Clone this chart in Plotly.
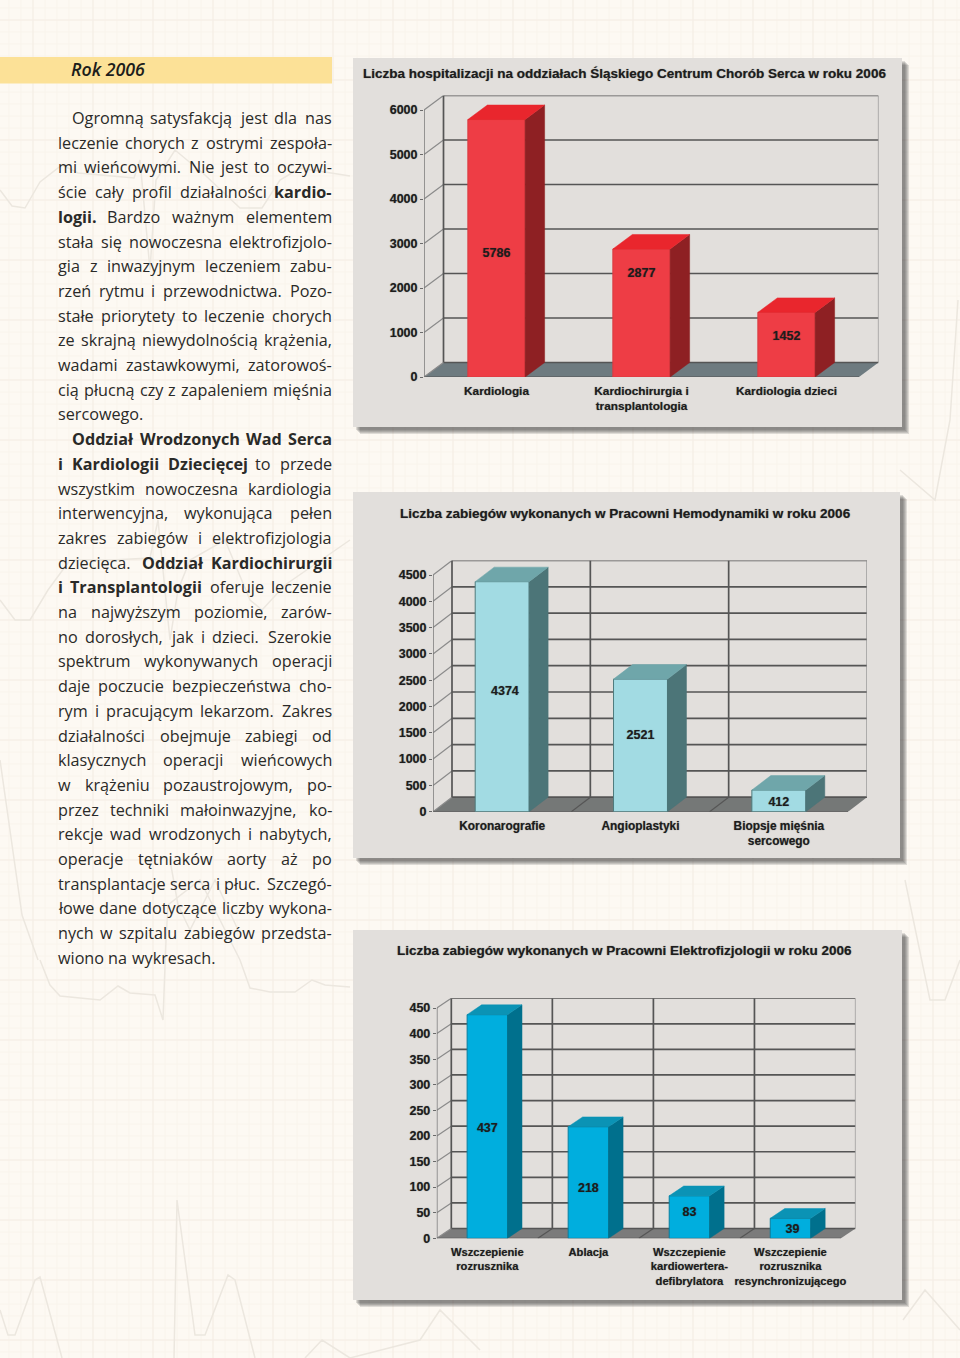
import plotly.graph_objects as go

W, H = 960, 1358

# ---------- data ----------
title1 = "Liczba hospitalizacji na oddziałach Śląskiego Centrum Chorób Serca w roku 2006"
categories1 = ["Kardiologia", "Kardiochirurgia i<br>transplantologia", "Kardiologia dzieci"]
values1 = [5786, 2877, 1452]
labels1 = ["5786", "2877", "1452"]
label_y1 = [2765, 2315, 900]
ticks1 = [0, 1000, 2000, 3000, 4000, 5000, 6000]

title2 = "Liczba zabiegów wykonanych w Pracowni Hemodynamiki w roku 2006"
categories2 = ["Koronarografie", "Angioplastyki", "Biopsje mięśnia<br>sercowego"]
values2 = [4374, 2521, 412]
labels2 = ["4374", "2521", "412"]
label_y2 = [2276, 1439, 171]
ticks2 = [0, 500, 1000, 1500, 2000, 2500, 3000, 3500, 4000, 4500]

title3 = "Liczba zabiegów wykonanych w Pracowni Elektrofizjologii w roku 2006"
categories3 = ["Wszczepienie<br>rozrusznika", "Ablacja", "Wszczepienie<br>kardiowertera-<br>defibrylatora",
               "Wszczepienie<br>rozrusznika<br>resynchronizującego"]
values3 = [437, 218, 83, 39]
labels3 = ["437", "218", "83", "39"]
label_y3 = [213, 96, 49, 16]
ticks3 = [0, 50, 100, 150, 200, 250, 300, 350, 400, 450]

heading = "Rok 2006"
# ^ marks bold words, > indented first line, $ last line (not justified)
body_lines = [
    ">Ogromną satysfakcją jest dla nas",
    "leczenie chorych z ostrymi zespoła-",
    "mi wieńcowymi. Nie jest to oczywi-",
    "ście cały profil działalności ^kardio-",
    "^logii. Bardzo ważnym elementem",
    "stała się nowoczesna elektrofizjolo-",
    "gia z inwazyjnym leczeniem zabu-",
    "rzeń rytmu i przewodnictwa. Pozo-",
    "stałe priorytety to leczenie chorych",
    "ze skrajną niewydolnością krążenia,",
    "wadami zastawkowymi, zatorowoś-",
    "cią płucną czy z zapaleniem mięśnia",
    "$sercowego.",
    ">^Oddział ^Wrodzonych ^Wad ^Serca",
    "^i ^Kardiologii ^Dziecięcej to przede",
    "wszystkim nowoczesna kardiologia",
    "interwencyjna, wykonująca pełen",
    "zakres zabiegów i elektrofizjologia",
    "dziecięca. ^Oddział ^Kardiochirurgii",
    "^i ^Transplantologii oferuje leczenie",
    "na najwyższym poziomie, zarów-",
    "no dorosłych, jak i dzieci. Szerokie",
    "spektrum wykonywanych operacji",
    "daje poczucie bezpieczeństwa cho-",
    "rym i pracującym lekarzom. Zakres",
    "działalności obejmuje zabiegi od",
    "klasycznych operacji wieńcowych",
    "w krążeniu pozaustrojowym, po-",
    "przez techniki małoinwazyjne, ko-",
    "rekcje wad wrodzonych i nabytych,",
    "operacje tętniaków aorty aż po",
    "transplantacje serca i płuc. Szczegó-",
    "łowe dane dotyczące liczby wykona-",
    "nych w szpitalu zabiegów przedsta-",
    "$wiono na wykresach.",
]

# ---------- chart geometry / style (pixels on the page) ----------
charts = [
    dict(title=title1, cats=categories1, vals=values1, labs=labels1, laby=label_y1, ticks=ticks1,
         panel=(353, 58, 902, 427), title_xy=(624.5, 73), xfont=11.8,
         left=424, right=859, y0=377, ytop=110, top_val=6000, dxp=19.5, dyp=14.5, w=0.395,
         lab_dx=[0, 0, 0], vgrid=False,
         front="#ee3d45", top="#e9262d", side="#8e2023", edge="#d93a40", floor="#6e7b80"),
    dict(title=title2, cats=categories2, vals=values2, labs=labels2, laby=label_y2, ticks=ticks2,
         panel=(353, 492, 900, 858), title_xy=(625.5, 513), xfont=11.9,
         left=433, right=848, y0=811.7, ytop=575, top_val=4500, dxp=19, dyp=14.5, w=0.39,
         lab_dx=[0.02, 0, 0], vgrid=True,
         front="#a2dbe3", top="#6fa6aa", side="#4c7578", edge="#4f7a7c", floor="#757877"),
    dict(title=title3, cats=categories3, vals=values3, labs=labels3, laby=label_y3, ticks=ticks3,
         panel=(353, 930, 902, 1300), title_xy=(624.5, 950), xfont=11.2,
         left=436.8, right=841, y0=1238.3, ytop=1008, top_val=450, dxp=14.5, dyp=9.8, w=0.4,
         lab_dx=[0, 0, 0, 0.02], vgrid=True,
         front="#00aede", top="#0b93b5", side="#00708d", edge="#0a7f9f", floor="#7b7b7b"),
]

LABEL_FONT = "Liberation Sans"
TEXT_SHADOW = "0 0 1px rgba(20,20,20,.55)"
INK = "#1d1d1d"
GRID = "#555555"

fig = go.Figure()
shapes, annotations = [], []


def px(x):
    return x / W


def py(y):
    return 1 - y / H


def page_note(text, x, y, xanchor, font):
    # full-page hidden axes measured in page pixels; paper-anchored notes would push the margins
    annotations.append(dict(text=text, xref="x4", yref="y4", x=x, y=y, xanchor=xanchor, yanchor="middle",
                            showarrow=False, font=font))


def paper_rect(x0, y0, x1, y1, color):
    shapes.append(dict(type="rect", xref="paper", yref="paper", x0=px(x0), x1=px(x1), y0=py(y0), y1=py(y1),
                       fillcolor=color, line=dict(width=0), layer="below"))


def paper_path(points_list, color, width):
    d = ""
    for pts in points_list:
        d += "M" + " L".join(f"{px(a):.5f},{py(b):.5f}" for a, b in pts) + " "
    shapes.append(dict(type="path", xref="paper", yref="paper", path=d, line=dict(color=color, width=width),
                       layer="below"))


# ---------- page background ----------
paper_rect(0, 0, W, H, "#fdf9f3")
minor = [[(x, 0), (x, H)] for x in range(9, W, 12)] + [[(0, y), (W, y)] for y in range(8, H, 12)]
paper_path(minor, "#f9f4ec", 1)
major = [[(x, 0), (x, H)] for x in range(33, W, 60)] + [[(0, y), (W, y)] for y in range(20, H, 60)]
paper_path(major, "#f6eee6", 1.2)
ecg = [
    [(0, 190), (12, 206), (25, 208), (40, 182), (62, 165), (78, 173), (112, 176), (134, 178), (140, 160), (150, 270),
     (156, 180), (175, 150), (205, 175), (240, 208), (262, 208), (280, 180), (300, 168), (350, 176)],
    [(0, 600), (15, 620), (30, 620), (48, 590), (70, 560), (95, 560), (112, 560), (150, 558), (158, 520), (170, 640),
     (178, 590), (190, 560), (225, 540), (250, 600), (262, 610), (285, 585), (350, 540)],
    [(40, 960), (50, 985), (60, 996), (100, 1000), (118, 986), (130, 993), (155, 995), (163, 1020), (166, 940),
     (168, 905), (200, 880), (240, 960), (250, 988), (270, 992), (295, 992), (312, 980), (325, 985), (350, 987)],
    [(0, 1310), (8, 1335), (15, 1335), (35, 1280), (40, 1277), (62, 1358)],
    [(174, 1358), (177, 1200), (195, 1335), (205, 1335), (228, 1275), (235, 1280), (255, 1358)],
    [(305, 1358), (322, 1340), (350, 1358), (420, 1340), (440, 1310), (480, 1350)],
    [(0, 760), (22, 915), (38, 960)],
    [(170, 860), (178, 905), (190, 930), (215, 880), (238, 930)],
    [(900, 470), (935, 500), (950, 420), (958, 300)],
    [(905, 880), (930, 1000), (945, 1000), (960, 960)],
    [(903, 1320), (925, 1290), (960, 1330)],
]
paper_path(ecg, "#ece7df", 1.5)

# heading band
paper_rect(0, 57, 332, 83.5, "#fce197")
page_note(f"<i>{heading}</i>", 69, 68.5, "left", dict(family="Open Sans", size=17.8, color="#1d1d1b", weight=600))

# ---------- justified body text ----------
CHAR_W = {"a": .556, "b": .613, "c": .476, "d": .613, "e": .561, "f": .339, "g": .548, "h": .613, "i": .253,
          "j": .253, "k": .525, "l": .253, "m": .93, "n": .613, "o": .604, "p": .613, "q": .613, "r": .408,
          "s": .477, "t": .353, "u": .613, "v": .501, "w": .778, "x": .524, "y": .504, "z": .468, "-": .322,
          ".": .266, ",": .245, "ł": .28, "ś": .477, "ń": .613, "ą": .556, "ę": .561, "ć": .476, "ó": .604,
          "ż": .468, "ź": .468}
BODY_SIZE = 16.2
BODY_LEFT, BODY_RIGHT = 58, 332
NOTE_PAD = 2  # annotations keep this much padding round their text


def word_width(word, bold):
    w = sum(CHAR_W.get(c, .64) for c in word) * BODY_SIZE
    return w * 1.07 if bold else w


for i, raw in enumerate(body_lines):
    y = 118 + i * 24.7
    last = raw.startswith("$")
    indent = raw.startswith(">")
    raw = raw.lstrip("$>")
    left = 72 if indent else BODY_LEFT
    parsed = [(t.lstrip("^"), t.startswith("^")) for t in raw.split(" ")]
    widths = [word_width(t, b) for t, b in parsed]
    gap = 0.26 * BODY_SIZE if last else (BODY_RIGHT - left - sum(widths)) / max(1, len(parsed) - 1)
    x = left
    for j, ((t, b), wd) in enumerate(zip(parsed, widths)):
        is_end = (j == len(parsed) - 1) and not last
        page_note(f"<b>{t}</b>" if b else t, BODY_RIGHT + NOTE_PAD if is_end else x - NOTE_PAD, y,
                  "right" if is_end else "left",
                  dict(family="Open Sans", size=BODY_SIZE, color="#2a2a28"))
        x += wd + gap

# ---------- charts ----------
for k, c in enumerate(charts, start=1):
    # panel with soft shadow
    x0, y0, x1, y1 = c["panel"]
    for off in (7, 6, 5, 4, 3):
        paper_rect(x0 + off, y0 + off, x1 + off, y1 + off, "rgba(60,60,60,0.16)")
    paper_rect(x0, y0, x1, y1, "#e2dfdc")

    ax = "" if k == 1 else str(k)
    xref, yref = f"x{ax}", f"y{ax}"
    n = len(c["cats"])
    catw = (c["right"] - c["left"]) / n
    unit = (c["y0"] - c["ytop"]) / c["top_val"]
    dx = c["dxp"] / catw
    dy = c["dyp"] / unit
    xmin, xmax = -0.5, n - 0.5
    w = c["w"]

    def seg(a, b, e, f, color=GRID, width=1.7):
        shapes.append(dict(type="line", xref=xref, yref=yref, x0=a, y0=b, x1=e, y1=f, layer="below",
                           line=dict(color=color, width=width)))

    # floor
    shapes.append(dict(type="path", xref=xref, yref=yref, layer="below", fillcolor=c["floor"], line=dict(width=0),
                       path=f"M{xmin},0 L{xmax},0 L{xmax + dx},{dy} L{xmin + dx},{dy} Z"))
    # walls
    for t in c["ticks"]:
        seg(xmin + dx, t + dy, xmax + dx, t + dy)
        seg(xmin, t, xmin + dx, t + dy, color="#8a8a8a", width=1.2)
    seg(xmin + dx, dy, xmin + dx, c["top_val"] + dy)
    seg(xmax + dx, dy, xmax + dx, c["top_val"] + dy, color="#8a8a8a", width=1.2)
    seg(xmin, 0, xmax, 0, width=1.2)
    if c["vgrid"]:
        for b in range(1, n):
            seg(xmin + b + dx, dy, xmin + b + dx, c["top_val"] + dy)
            seg(xmin + b, 0, xmin + b + dx, dy, width=1.2)

    xs = list(range(n))
    fig.add_trace(go.Bar(x=xs, y=c["vals"], width=w, marker=dict(color=c["front"], line=dict(color=c["edge"], width=1)),
                         xaxis=xref, yaxis=yref, showlegend=False, hoverinfo="skip"))
    sx, sy, tx, ty = [], [], [], []
    for i, v in enumerate(c["vals"]):
        r, l = i + w / 2, i - w / 2
        sx += [r, r + dx, r + dx, r, r, None]
        sy += [0, dy, v + dy, v, 0, None]
        tx += [l, r, r + dx, l + dx, l, None]
        ty += [v, v, v + dy, v + dy, v, None]
    for px_, py_, col in ((sx, sy, c["side"]), (tx, ty, c["top"])):
        fig.add_trace(go.Scatter(x=px_, y=py_, mode="lines", fill="toself", fillcolor=col,
                                 line=dict(width=0.5, color=col), xaxis=xref, yaxis=yref,
                                 showlegend=False, hoverinfo="skip"))
    fig.add_trace(go.Scatter(x=[i + d for i, d in zip(xs, c["lab_dx"])], y=c["laby"], text=c["labs"], mode="text",
                             textfont=dict(family=LABEL_FONT, size=12.5, color=INK, weight="bold", shadow=TEXT_SHADOW),
                             xaxis=xref, yaxis=yref, showlegend=False, hoverinfo="skip"))

    y_font = dict(family=LABEL_FONT, size=12.5, color=INK, weight="bold", shadow=TEXT_SHADOW)
    x_font = dict(family=LABEL_FONT, size=c["xfont"], color=INK, weight="bold", shadow=TEXT_SHADOW)
    fig.update_layout(**{
        f"xaxis{ax}": dict(domain=[px(c["left"]), px(c["right"] + c["dxp"])], range=[xmin, xmax + dx],
                           anchor=yref, tickmode="array", tickvals=xs, ticktext=c["cats"], ticks="",
                           showgrid=False, zeroline=False, showline=False,
                           tickfont=x_font, tickangle=0, ticklabelstandoff=5, fixedrange=True),
        f"yaxis{ax}": dict(domain=[py(c["y0"]), py(c["ytop"] - c["dyp"])], range=[0, c["top_val"] + dy],
                           anchor=xref, tickmode="array", tickvals=c["ticks"],
                           ticktext=[str(t) for t in c["ticks"]], ticks="outside", ticklen=3, tickcolor="#6a6a6a",
                           showgrid=False, zeroline=False, showline=False,
                           tickfont=y_font, fixedrange=True),
    })
    seg(xmin, 0, xmin, c["top_val"], color="#7a7a7a", width=1.5)
    page_note(f"<b>{c['title']}</b>", c["title_xy"][0], c["title_xy"][1], "center",
              dict(family=LABEL_FONT, size=13.5, color=INK, shadow=TEXT_SHADOW))

# hidden full-page axes in page pixels, used to place the page text
fig.add_trace(go.Scatter(x=[None], y=[None], xaxis="x4", yaxis="y4", showlegend=False, hoverinfo="skip"))
fig.update_layout(xaxis4=dict(domain=[0, 1], range=[0, W], visible=False, anchor="y4", fixedrange=True),
                  yaxis4=dict(domain=[0, 1], range=[H, 0], visible=False, anchor="x4", fixedrange=True))

fig.update_layout(width=W, height=H, margin=dict(l=0, r=0, t=0, b=0, autoexpand=False), paper_bgcolor="#fdf9f3",
                  plot_bgcolor="rgba(0,0,0,0)", showlegend=False, barmode="overlay",
                  shapes=shapes, annotations=annotations)

fig.write_html("out.html", config={"displayModeBar": False},
               post_script="document.body.style.margin='0';document.body.style.overflow='hidden';")
